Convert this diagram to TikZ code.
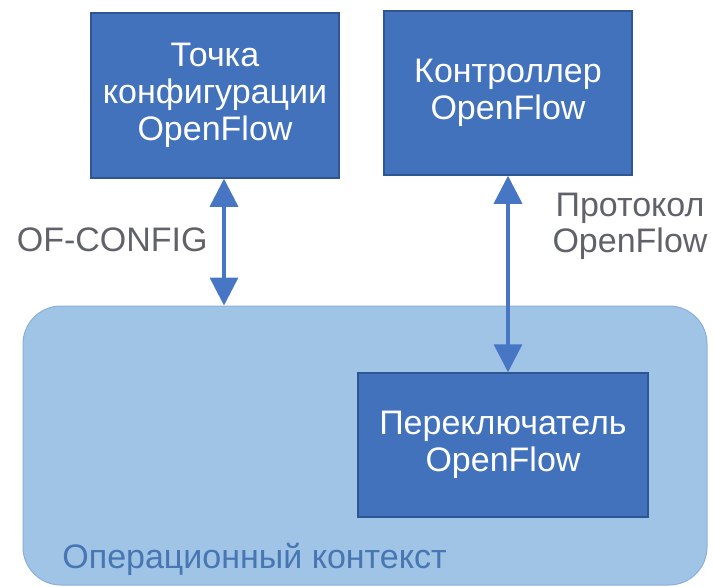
\documentclass[tikz,border=0pt]{standalone}
\usepackage{fontspec}
\setmainfont{Liberation Sans}
\usetikzlibrary{arrows.meta}

\definecolor{boxblue}{RGB}{66,114,188}
\definecolor{boxedge}{RGB}{46,86,148}
\definecolor{ctxfill}{RGB}{160,196,230}
\definecolor{ctxedge}{RGB}{138,176,216}
\definecolor{linkblue}{RGB}{70,118,196}
\definecolor{labelgray}{RGB}{95,98,105}
\definecolor{ctxtext}{RGB}{72,118,178}

\tikzset{every picture/.style={line width=0.75pt}}
\tikzset{
	ofbox/.style={draw=boxedge, line width=1.5pt, fill=boxblue, text=white, align=center, inner sep=0pt, font=\fontsize{34}{37}\selectfont},
	ofctx/.style={draw=ctxedge, line width=1pt, fill=ctxfill, rounded corners=38pt, inner sep=0pt},
	oflabel/.style={text=labelgray, align=center, inner sep=0pt, font=\fontsize{34}{36}\selectfont},
	oflink/.style={draw=linkblue, line width=3.5pt, {Triangle[width=28pt,length=28pt]}-{Triangle[width=28pt,length=28pt]}}}

\begin{document}
\begin{tikzpicture}[x=1pt,y=1pt,yscale=-1]
	\useasboundingbox (0,0) rectangle (714,586);
	
	% operational context
	\node [ofctx, minimum width=684pt, minimum height=279pt] (ctx) at (365,445.5) {};
	\node [text=ctxtext, anchor=base west, inner sep=0pt, font=\fontsize{34}{36}\selectfont] (ctxname) at (62,568) {Операционный контекст};
	
	% boxes
	\node [ofbox, minimum width=248pt, minimum height=165pt] (cfgpoint) at (215,95.5) {Точка\\конфигурации\\OpenFlow};
	\node [ofbox, minimum width=248pt, minimum height=164pt] (ctrl) at (508,93) {Контроллер\\OpenFlow};
	\node [ofbox, minimum width=290pt, minimum height=144pt] (switch) at (503,445) {Переключатель\\OpenFlow};
	
	% links
	\coordinate (cfgx) at (224,0);
	\draw [oflink] (cfgpoint.south -| cfgx) -- (ctx.north -| cfgx);
	\draw [oflink] (ctrl.south) -- (switch.north -| ctrl.south);
	
	% labels
	\node [oflabel, anchor=east] (ofcfg) at (208,240) {OF-CONFIG};
	\node [oflabel] (ofproto) at (630,226) {Протокол\\OpenFlow};
	
\end{tikzpicture}
\end{document}
